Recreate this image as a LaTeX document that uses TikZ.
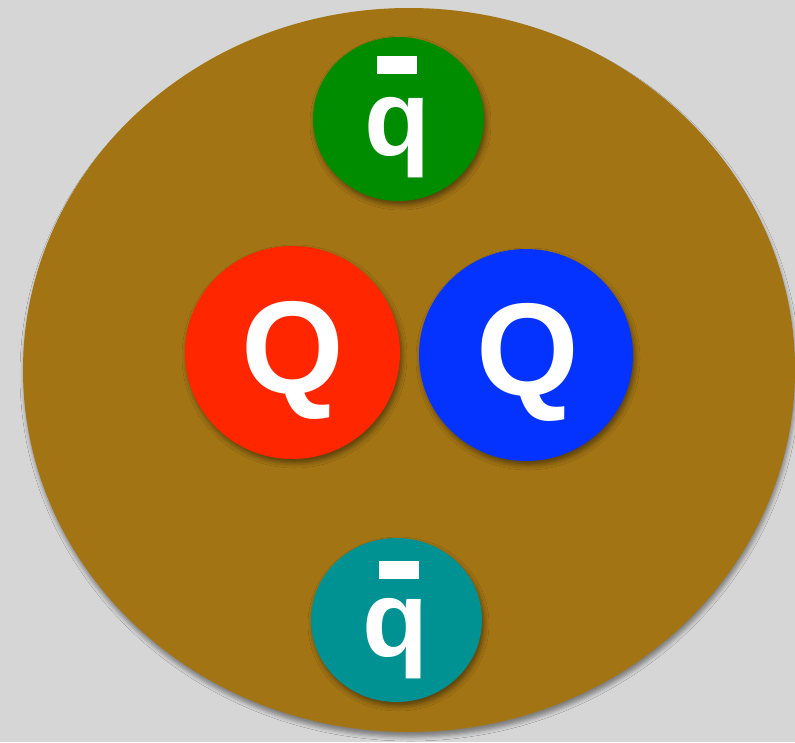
\documentclass[tikz,border=0pt]{standalone}
\usepackage{fontspec}
\setmainfont{Liberation Sans}
\usetikzlibrary{shadows.blur}
\definecolor{bgray}{HTML}{D6D6D6}
\definecolor{hadron}{HTML}{A27414}
\definecolor{qgreen}{HTML}{008C00}
\definecolor{qred}{HTML}{FF2600}
\definecolor{qblue}{HTML}{0433FF}
\definecolor{qteal}{HTML}{009193}
\tikzset{
  soft/.style={blur shadow={shadow xshift=2pt, shadow yshift=-4pt, shadow blur radius=5pt, shadow opacity=45}},
  bigsoft/.style={blur shadow={shadow xshift=1pt, shadow yshift=-5pt, shadow blur radius=4pt, shadow opacity=40}},
  bigq/.style={text=white, font=\fontsize{132}{132}\selectfont\bfseries},
  smallq/.style={text=white, font=\fontsize{108}{108}\selectfont\bfseries},
}
\begin{document}
\begin{tikzpicture}[x=1pt,y=-1pt]
  \fill[bgray] (0,0) rectangle (795,742);
  \useasboundingbox (0,0) rectangle (795,742);
  % hadron body
  \fill[hadron, bigsoft] (409,370) ellipse [x radius=386, y radius=362];
  % antiquarks
  \fill[qgreen, soft] (398.5,119) ellipse [x radius=85.5, y radius=82];
  \fill[qteal, soft] (396.5,620) ellipse [x radius=85.5, y radius=82];
  % heavy quarks
  \fill[qred, soft] (292.5,352.5) ellipse [x radius=107.5, y radius=106.5];
  \fill[qblue, soft] (526,355) ellipse [x radius=107, y radius=106];
  \node[bigq] (q1) at (293,360) {Q};
  \node[bigq] (q2) at (528,362) {Q};
  \node[smallq] (a1) at (397,138) {q};
  \node[smallq] (a2) at (395,639) {q};
  % anti bars
  \fill[white] (377,56) rectangle (417,74);
  \fill[white] (379,561) rectangle (419,579);
\end{tikzpicture}
\end{document}
